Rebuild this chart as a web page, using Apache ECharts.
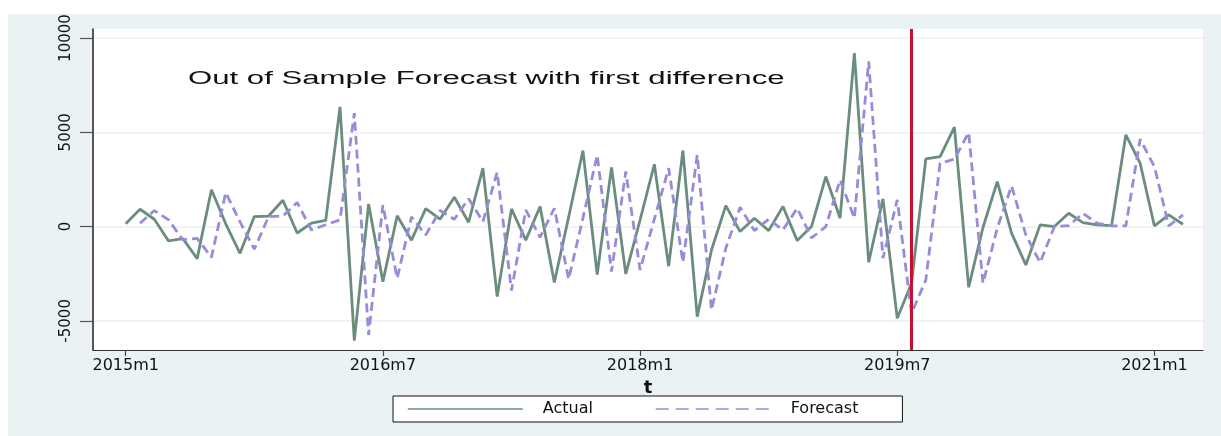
<!DOCTYPE html>
<html>
<head>
<meta charset="utf-8">
<script src="https://cdn.jsdelivr.net/npm/echarts@6/dist/echarts.min.js"></script>
<style>
  html, body { margin: 0; padding: 0; background: #ffffff; }
  #bg { position: absolute; left: 8px; top: 14px; width: 1213px; height: 422px; background: #EAF2F3; }
  #chart { position: absolute; left: 0; top: 0; width: 1221px; height: 436px; }
</style>
</head>
<body>
<div id="bg"></div>
<div id="chart"></div>
<script>
// Monthly series, 2015m1 (index 0) to 2021m3 (index 74)
const actual = [
  150, 920, 390, -760, -640, -1700, 1950, 150, -1415, 530,
  560, 1400, -340, 180, 330, 6350, -6050, 1200, -2920, 575,
  -720, 955, 390, 1557, 230, 3096, -3715, 938, -720, 1061,
  -2960, 500, 4033, -2540, 3140, -2512, 350, 3308, -2100, 4035,
  -4777, -1240, 1115, -265, 445, -212, 1062, -743, 0, 2655,
  445, 9200, -1890, 1470, -4862, -3005, 3593, 3716, 5276, -3217,
  -50, 2388, -350, -2033, 90, 0, 708, 212, 90, 50,
  4865, 3363, 35, 620, 124
];
const forecast = [
  null, 177, 850, 354, -708, -620, -1630, 1805, 250, -1200,
  530, 560, 1280, -180, 100, 354, 6016, -5750, 1140, -2740,
  515, -442, 850, 390, 1480, 265, 2883, -3396, 885, -566,
  973, -2790, 450, 3800, -2388, 2919, -2300, 400, 3096, -1900,
  3800, -4422, -1150, 1027, -212, 390, -177, 973, -600, 0,
  2478, 445, 8760, -1680, 1415, -4600, -2830, 3363, 3575, 4990,
  -3005, -88, 2160, -440, -1910, 0, 50, 700, 177, 35,
  35, 4636, 3185, 35, 620
];
const forecastStart = 55;            // 2019m8 (index from 2015m1)
const xTickValues = [0, 18, 36, 54, 72];
const xTickLabels = ['2015m1', '2016m7', '2018m1', '2019m7', '2021m1'];
const yTickValues = [-5000, 0, 5000, 10000];
const yTickLabels = ['-5000', '0', '5000', '10000'];
const titleText = 'Out of Sample Forecast with first difference';
const seriesNames = ['Actual', 'Forecast'];

const actualData = actual.map((v, i) => [i, v]);
const forecastData = forecast.map((v, i) => [i, v]);

const chart = echarts.init(document.getElementById('chart'), null, { renderer: 'canvas' });
const FONT = 'DejaVu Sans';

chart.setOption({
  animation: false,
  backgroundColor: 'transparent',
  graphic: [{
    type: 'text',
    x: 188, y: 79,
    scaleX: 1.73,
    style: {
      text: titleText,
      fontFamily: 'Liberation Sans',
      fontSize: 18,
      fill: '#111',
      align: 'left',
      verticalAlign: 'middle'
    }
  }],
  grid: {
    left: 93, right: 18, top: 29, bottom: 86,
    show: true, backgroundColor: '#ffffff', borderWidth: 0
  },
  legend: {
    left: 393, top: 396,
    padding: [5, 44, 5, 14],
    backgroundColor: '#ffffff',
    borderColor: '#111', borderWidth: 1, borderRadius: 0,
    itemWidth: 115, itemHeight: 14, itemGap: 62,
    textStyle: { fontFamily: FONT, fontSize: 16, color: '#111', padding: [0, 0, 0, 15] },
    itemStyle: { opacity: 0 },
    data: [
      { name: seriesNames[0], itemStyle: { opacity: 0 }, lineStyle: { width: 1.6, type: 'solid', opacity: 1 } },
      { name: seriesNames[1], itemStyle: { opacity: 0 }, lineStyle: { width: 1.6, type: [13, 7], opacity: 1 } }
    ]
  },
  xAxis: {
    type: 'value',
    min: -2.29, max: 75.4,
    name: 't',
    nameLocation: 'middle',
    nameGap: 28,
    nameTextStyle: { fontFamily: FONT, fontSize: 18, fontWeight: 'bold', color: '#111' },
    axisLine: { show: true, onZero: false, lineStyle: { color: '#333', width: 1.2 } },
    axisTick: { show: true, customValues: xTickValues, length: 6, lineStyle: { color: '#444', width: 1.2 } },
    axisLabel: {
      customValues: xTickValues,
      formatter: v => xTickLabels[xTickValues.indexOf(Math.round(v))] || '',
      fontFamily: FONT, fontSize: 16, color: '#111', margin: 8
    },
    splitLine: { show: false }
  },
  yAxis: {
    type: 'value',
    min: -6545, max: 10480,
    axisLine: { show: true, onZero: false, lineStyle: { color: '#222', width: 1.5 } },
    axisTick: { show: true, customValues: yTickValues, length: 13, lineStyle: { color: '#555', width: 1.2 } },
    axisLabel: {
      customValues: yTickValues,
      formatter: v => yTickLabels[yTickValues.indexOf(Math.round(v))] || '',
      rotate: 90, margin: 19,
      fontFamily: FONT, fontSize: 15, color: '#111'
    },
    splitLine: { show: true, lineStyle: { color: '#EAF2F3', width: 1.5 } }
  },
  series: [
    {
      name: seriesNames[0],
      type: 'line',
      data: actualData,
      symbol: 'none',
      lineStyle: { color: '#6A8D7D', width: 2.8 },
      itemStyle: { color: '#6A8D7D' },
      z: 2
    },
    {
      name: seriesNames[1],
      type: 'line',
      data: forecastData,
      symbol: 'none',
      connectNulls: false,
      lineStyle: { color: '#978CDA', width: 2.8, type: [9, 5] },
      itemStyle: { color: '#978CDA' },
      z: 3,
      markLine: {
        silent: true,
        symbol: 'none',
        label: { show: false },
        lineStyle: { color: '#C8102E', width: 3, type: 'solid' },
        data: [{ xAxis: forecastStart }]
      }
    }
  ]
});
</script>
</body>
</html>
